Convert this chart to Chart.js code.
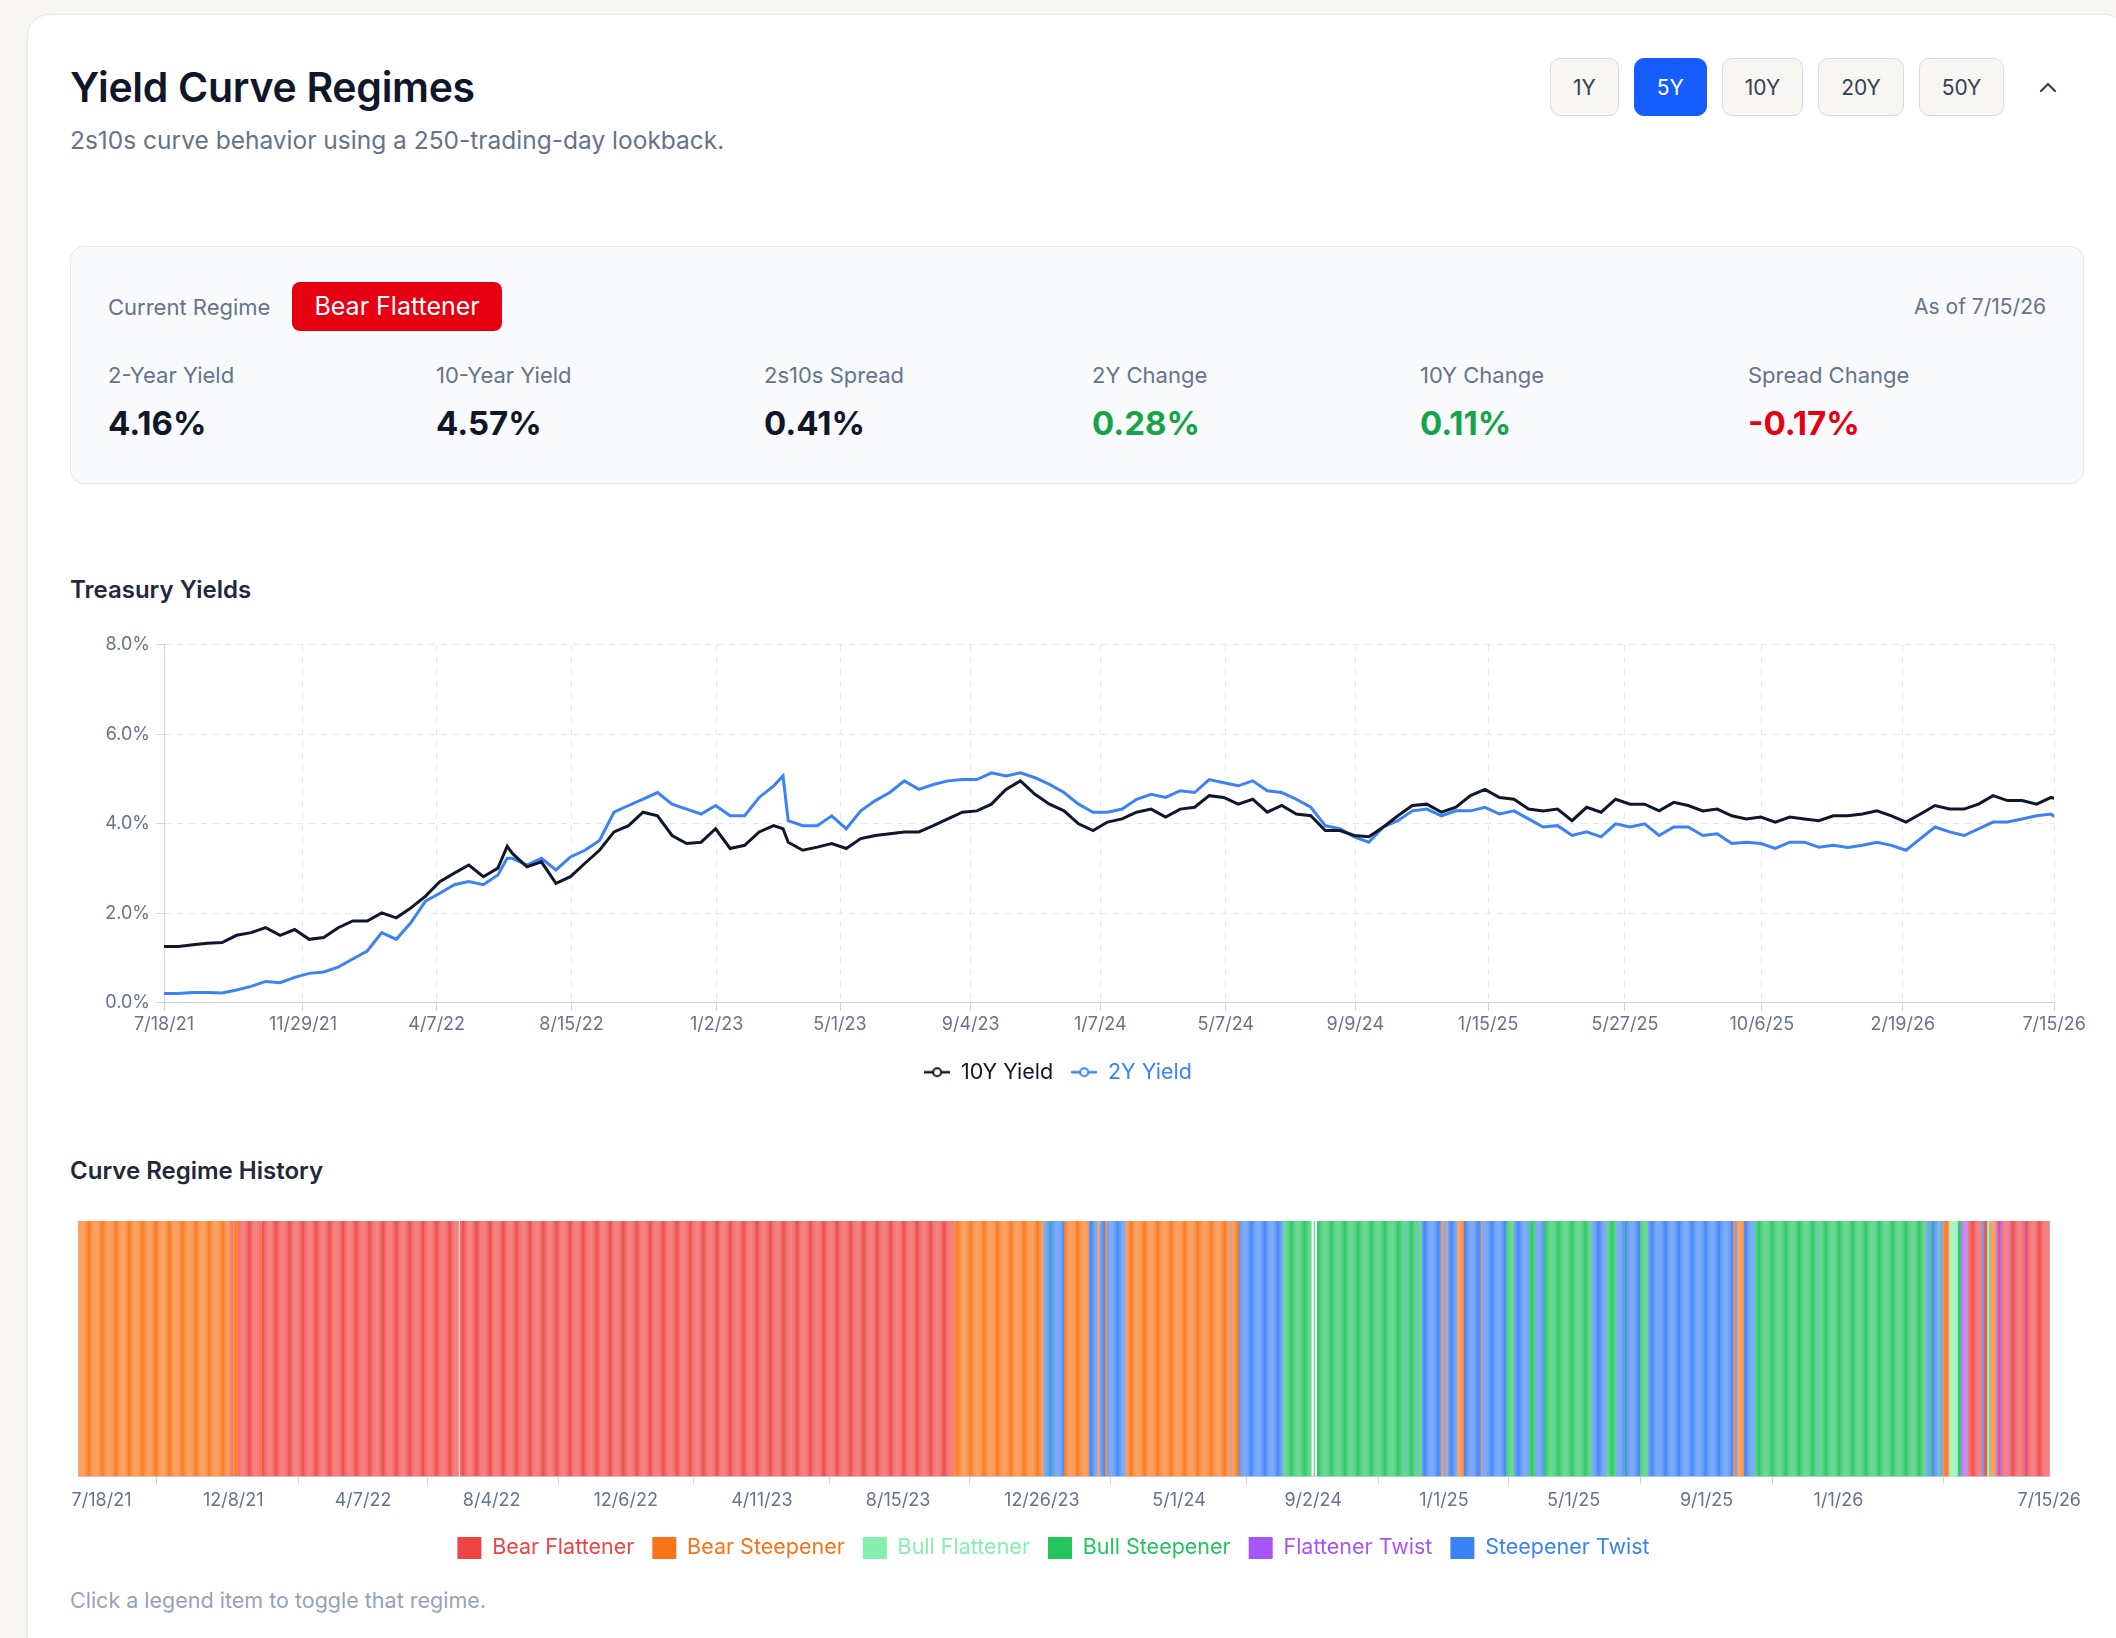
<!DOCTYPE html>
<html>
<head>
<meta charset="utf-8">
<title>Yield Curve Regimes</title>
<script src="https://cdn.jsdelivr.net/npm/chart.js@4.4.1/dist/chart.umd.min.js"></script>
<style>
  html, body { margin: 0; padding: 0; }
  body {
    width: 2116px; height: 1638px; overflow: hidden;
    background: #f7f6f3;
    font-family: Inter, "Noto Sans", sans-serif;
    color: #0f172a;
  }
  .card {
    position: absolute; left: 27px; top: 14px;
    width: 2100px; height: 1700px;
    box-sizing: border-box;
    background: #fff;
    border: 1px solid #e6e7ea;
    border-radius: 22px;
    box-shadow: 0 1px 3px rgba(15, 23, 42, 0.05);
  }
  .card > * { position: absolute; }
  h1 {
    margin: 0; left: 42px; top: 48px;
    font-size: 41px; line-height: 48px; font-weight: 600;
    color: #0f172a; letter-spacing: -0.3px;
  }
  .sub {
    left: 42px; top: 109px;
    font-size: 24.5px; line-height: 32px; color: #64748b;
  }
  .ranges { left: 1522px; top: 43px; display: flex; align-items: center; }
  .ranges button {
    height: 58px; padding: 0 22px; margin-right: 15px;
    font: 21px Inter, sans-serif; color: #334155;
    background: #f7f6f3; border: 1px solid #d7dbe2; border-radius: 10px;
  }
  .ranges button.on { background: #165dff; border-color: #165dff; color: #fff; }
  .ranges svg { margin-left: 20px; }
  .stats {
    left: 42px; top: 231px; width: 2014px; height: 238px;
    box-sizing: border-box;
    background: #f8fafc; border: 1px solid #e2e8f0; border-radius: 14px;
    padding: 35px 37px 0 37px;
  }
  .row { display: flex; align-items: center; height: 49px; }
  .muted { font-size: 22px; color: #64748b; }
  .badge {
    margin-left: 22px; height: 49px; line-height: 49px; padding: 0 22px;
    background: #e60012; color: #fff; border-radius: 8px; font-size: 25px;
  }
  .asof { margin-left: auto; font-size: 21px; color: #64748b; }
  .grid { display: grid; grid-template-columns: repeat(6, 1fr); column-gap: 30px; margin-top: 30px; }
  .grid .lbl { font-size: 22px; line-height: 28px; color: #64748b; }
  .grid .val { font-size: 33px; line-height: 40px; font-weight: 700; margin-top: 14px; color: #0f172a; }
  .grid .up { color: #16a34a; }
  .grid .down { color: #e60012; }
  h2 {
    margin: 0; left: 42px;
    font-size: 24px; line-height: 32px; font-weight: 600; color: #1e293b;
  }
  #yieldsBox { left: -1px; top: 613px; width: 2062px; height: 465px; }
  #regimeBox { left: -7px; top: 1206px; width: 2065px; height: 348px; }
  .note { left: 42px; top: 1571px; font-size: 21.5px; line-height: 28px; color: #94a3b8; }
</style>
</head>
<body>
<div class="card">
  <h1>Yield Curve Regimes</h1>
  <div class="sub">2s10s curve behavior using a 250-trading-day lookback.</div>
  <div class="ranges">
    <button>1Y</button><button class="on">5Y</button><button>10Y</button><button>20Y</button><button>50Y</button>
    <svg width="18" height="12" viewBox="0 0 18 12"><path d="M2 10 L9 3 L16 10" fill="none" stroke="#334155" stroke-width="2.2" stroke-linecap="round" stroke-linejoin="round"/></svg>
  </div>

  <div class="stats">
    <div class="row">
      <span class="muted">Current Regime</span>
      <span class="badge">Bear Flattener</span>
      <span class="asof">As of 7/15/26</span>
    </div>
    <div class="grid">
      <div><div class="lbl">2-Year Yield</div><div class="val">4.16%</div></div>
      <div><div class="lbl">10-Year Yield</div><div class="val">4.57%</div></div>
      <div><div class="lbl">2s10s Spread</div><div class="val">0.41%</div></div>
      <div><div class="lbl">2Y Change</div><div class="val up">0.28%</div></div>
      <div><div class="lbl">10Y Change</div><div class="val up">0.11%</div></div>
      <div><div class="lbl">Spread Change</div><div class="val down">-0.17%</div></div>
    </div>
  </div>

  <h2 style="top:559px">Treasury Yields</h2>
  <div id="yieldsBox"><canvas id="yieldsChart"></canvas></div>

  <h2 style="top:1140px">Curve Regime History</h2>
  <div id="regimeBox"><canvas id="regimeChart"></canvas></div>

  <div class="note">Click a legend item to toggle that regime.</div>
</div>

<script>
// ---- data ----

// observation day = days since 7/18/21
const obsDay = [
  0, 14, 28, 42, 56, 70, 84, 98, 112, 126,
  140, 154, 168, 182, 196, 210, 224, 238, 252, 266,
  280, 294, 308, 322, 331, 336, 350, 364, 378, 392,
  406, 420, 434, 448, 462, 476, 490, 504, 518, 532,
  546, 560, 574, 588, 597, 602, 616, 630, 644, 658,
  672, 686, 700, 714, 728, 742, 756, 770, 784, 798,
  812, 826, 840, 854, 868, 882, 896, 910, 924, 938,
  952, 966, 980, 994, 1008, 1022, 1036, 1050, 1064, 1078,
  1092, 1106, 1120, 1134, 1148, 1162, 1176, 1190, 1204, 1218,
  1232, 1246, 1260, 1274, 1288, 1302, 1316, 1330, 1344, 1358,
  1372, 1386, 1400, 1414, 1428, 1442, 1456, 1470, 1484, 1498,
  1512, 1526, 1540, 1554, 1568, 1582, 1596, 1610, 1624, 1638,
  1652, 1666, 1680, 1694, 1708, 1722, 1736, 1750, 1764, 1778,
  1792, 1806, 1820, 1823
];

const tenYear = [
  1.26, 1.26, 1.30, 1.33, 1.35, 1.51, 1.57, 1.68, 1.51, 1.64,
  1.42, 1.46, 1.68, 1.83, 1.83, 2.01, 1.90, 2.12, 2.38, 2.71,
  2.90, 3.08, 2.82, 3.01, 3.50, 3.34, 3.04, 3.15, 2.67, 2.82,
  3.12, 3.41, 3.82, 3.96, 4.26, 4.18, 3.74, 3.56, 3.59, 3.89,
  3.45, 3.52, 3.82, 3.96, 3.89, 3.59, 3.41, 3.48, 3.56, 3.45,
  3.67, 3.74, 3.78, 3.82, 3.82, 3.96, 4.11, 4.26, 4.29, 4.44,
  4.77, 4.96, 4.66, 4.44, 4.29, 4.00, 3.85, 4.04, 4.11, 4.26,
  4.33, 4.15, 4.33, 4.37, 4.63, 4.59, 4.44, 4.55, 4.26, 4.41,
  4.22, 4.18, 3.85, 3.85, 3.74, 3.71, 3.93, 4.18, 4.41, 4.44,
  4.26, 4.37, 4.63, 4.77, 4.59, 4.55, 4.33, 4.29, 4.33, 4.07,
  4.37, 4.26, 4.55, 4.44, 4.44, 4.29, 4.48, 4.41, 4.29, 4.33,
  4.18, 4.11, 4.15, 4.04, 4.15, 4.11, 4.07, 4.18, 4.18, 4.22,
  4.29, 4.18, 4.04, 4.22, 4.41, 4.33, 4.33, 4.44, 4.63, 4.52,
  4.52, 4.44, 4.59, 4.57
];

const twoYear = [
  0.21, 0.21, 0.23, 0.23, 0.22, 0.29, 0.37, 0.48, 0.45, 0.57,
  0.66, 0.69, 0.80, 0.98, 1.16, 1.57, 1.42, 1.79, 2.27, 2.45,
  2.64, 2.71, 2.64, 2.86, 3.23, 3.23, 3.08, 3.23, 2.97, 3.26,
  3.41, 3.63, 4.26, 4.41, 4.55, 4.70, 4.44, 4.33, 4.22, 4.41,
  4.18, 4.18, 4.59, 4.85, 5.07, 4.07, 3.96, 3.96, 4.18, 3.89,
  4.29, 4.52, 4.70, 4.96, 4.77, 4.88, 4.96, 4.99, 4.99, 5.14,
  5.07, 5.14, 5.03, 4.88, 4.70, 4.44, 4.26, 4.26, 4.33, 4.55,
  4.66, 4.59, 4.74, 4.70, 4.99, 4.92, 4.85, 4.96, 4.74, 4.70,
  4.55, 4.37, 3.96, 3.89, 3.71, 3.59, 3.93, 4.07, 4.29, 4.33,
  4.18, 4.29, 4.29, 4.37, 4.22, 4.29, 4.11, 3.93, 3.96, 3.74,
  3.82, 3.71, 4.00, 3.93, 4.00, 3.74, 3.93, 3.93, 3.74, 3.78,
  3.56, 3.59, 3.56, 3.45, 3.59, 3.59, 3.48, 3.52, 3.47, 3.52,
  3.59, 3.52, 3.41, 3.67, 3.93, 3.82, 3.74, 3.89, 4.04, 4.04,
  4.11, 4.18, 4.22, 4.16
];

const yieldTicks = ['7/18/21', '11/29/21', '4/7/22', '8/15/22', '1/2/23', '5/1/23', '9/4/23',
  '1/7/24', '5/7/24', '9/9/24', '1/15/25', '5/27/25', '10/6/25', '2/19/26', '7/15/26'];

const regimeNames = ['Bear Flattener', 'Bear Steepener', 'Bull Flattener', 'Bull Steepener', 'Flattener Twist', 'Steepener Twist'];
const regimeColors = ['#ef4444', '#f97316', '#86efac', '#22c55e', '#a855f7', '#3b82f6'];

// one bar per calendar day: [regime index (null = no reading), number of days]
const regimeRuns = [
  [1, 140], [0, 3], [1, 5], [0, 21], [1, 1], [0, 182], [null, 1], [0, 457],
  [1, 83], [5, 7], [3, 1], [5, 11], [1, 23], [5, 8], [1, 2], [5, 5], [1, 2], [5, 17],
  [1, 97], [5, 1], [1, 7], [5, 41], [3, 26], [null, 2], [3, 1], [null, 2], [3, 82],
  [5, 1], [3, 10], [5, 1], [3, 3], [5, 18], [1, 2], [5, 3], [1, 1], [5, 9], [1, 6],
  [5, 16], [1, 1], [5, 22], [3, 7], [5, 14], [3, 6], [5, 8], [3, 44], [5, 14], [3, 9],
  [5, 7], [3, 1], [5, 14], [3, 7], [5, 79], [1, 2], [5, 2], [1, 6], [5, 10], [3, 58],
  [5, 1], [3, 99], [5, 4], [3, 2], [5, 6], [3, 1], [5, 3], [1, 6], [2, 8], [3, 3],
  [4, 6], [0, 13], [5, 2], [0, 3], [2, 2], [3, 1], [1, 5], [4, 2], [0, 2], [4, 2],
  [0, 6], [4, 1], [0, 13], [4, 1], [0, 23]
];

const regimeTicks = ['7/18/21', '12/8/21', '4/7/22', '8/4/22', '12/6/22', '4/11/23', '8/15/23',
  '12/26/23', '5/1/24', '9/2/24', '1/1/25', '5/1/25', '9/1/25', '1/1/26', '7/15/26'];

// ---- helpers ----
function dayOf(label) {
  const [m, d, y] = label.split('/').map(Number);
  return Math.round((Date.UTC(2000 + y, m - 1, d) - Date.UTC(2021, 6, 18)) / 86400000);
}

function lineIcon(color) {
  const c = document.createElement('canvas');
  c.width = 26; c.height = 14;
  const g = c.getContext('2d');
  g.strokeStyle = color;
  g.lineWidth = 2.5;
  g.beginPath(); g.moveTo(0, 7); g.lineTo(26, 7); g.stroke();
  g.beginPath(); g.arc(13, 7, 4, 0, Math.PI * 2);
  g.fillStyle = '#fff'; g.fill();
  g.lineWidth = 2; g.stroke();
  return c;
}

const tickFont = { family: 'Inter', size: 18 };
const tickColor = '#64748b';
const legendFont = { family: 'Inter', size: 21.5 };

// ---- treasury yields ----
const yieldSeries = [
  { label: '10Y Yield', values: tenYear, color: '#0f172a' },
  { label: '2Y Yield', values: twoYear, color: '#3b82f6' }
];

new Chart(document.getElementById('yieldsChart'), {
  type: 'line',
  data: {
    datasets: yieldSeries.map(s => ({
      label: s.label,
      data: s.values.map((v, i) => ({ x: obsDay[i], y: v })),
      borderColor: s.color,
      backgroundColor: s.color,
      borderWidth: 3,
      pointRadius: 0,
      tension: 0
    }))
  },
  options: {
    responsive: true,
    maintainAspectRatio: false,
    animation: false,
    scales: {
      x: {
        type: 'linear',
        min: 0,
        max: dayOf('7/15/26'),
        afterBuildTicks: scale => { scale.ticks = yieldTicks.map(l => ({ value: dayOf(l) })); },
        afterFit: scale => { scale.height += 5; },
        ticks: {
          autoSkip: false, maxRotation: 0, font: tickFont, color: tickColor,
          callback: (v, i) => yieldTicks[i]
        },
        grid: { color: '#e2e8f0', tickColor: '#cbd5e1', tickLength: 8 },
        border: { color: '#cbd5e1', dash: [6, 6] }
      },
      y: {
        min: 0,
        max: 8,
        afterFit: scale => { scale.width = 137; },
        ticks: {
          stepSize: 2, padding: 6, font: tickFont, color: tickColor,
          callback: v => v.toFixed(1) + '%'
        },
        grid: { color: '#e2e8f0', tickColor: '#cbd5e1', tickLength: 8 },
        border: { color: '#cbd5e1', dash: [6, 6] }
      }
    },
    plugins: {
      legend: {
        position: 'bottom',
        labels: {
          usePointStyle: true,
          pointStyleWidth: 26,
          padding: 18,
          font: legendFont,
          generateLabels: chart => chart.data.datasets.map((ds, i) => ({
            text: ds.label,
            fontColor: ds.borderColor,
            pointStyle: lineIcon(ds.borderColor),
            fillStyle: 'transparent',
            strokeStyle: 'transparent',
            lineWidth: 0,
            hidden: !chart.isDatasetVisible(i),
            datasetIndex: i
          }))
        }
      },
      tooltip: { enabled: false }
    }
  }
});

// ---- curve regime history ----
const regimeData = regimeNames.map(() => []);
let day = 0;
regimeRuns.forEach(([r, len]) => {
  for (let k = 0; k < len; k++) {
    if (r !== null) regimeData[r].push({ x: day + k, y: 1 });
  }
  day += len;
});
const lastDay = day - 1;

new Chart(document.getElementById('regimeChart'), {
  type: 'bar',
  data: {
    datasets: regimeNames.map((name, i) => ({
      label: name,
      data: regimeData[i],
      backgroundColor: regimeColors[i],
      borderWidth: 0,
      barPercentage: 0.85,
      categoryPercentage: 1
    }))
  },
  options: {
    responsive: true,
    maintainAspectRatio: false,
    animation: false,
    scales: {
      x: {
        type: 'linear',
        stacked: true,
        offset: false,
        min: -0.5,
        max: lastDay + 0.5,
        afterBuildTicks: scale => { scale.ticks = regimeTicks.map(l => ({ value: dayOf(l) })); },
        afterFit: scale => { scale.height += 3; },
        ticks: {
          autoSkip: false, maxRotation: 0, padding: 5, font: tickFont, color: tickColor,
          // first label sits to the right of its tick in the original, so pad it
          callback: (v, i) => (i === 0 ? '         ' : '') + regimeTicks[i]
        },
        grid: { drawOnChartArea: false, color: '#cbd5e1', tickColor: '#cbd5e1', tickLength: 8 },
        border: { color: '#cbd5e1' }
      },
      y: { stacked: true, min: 0, max: 1, display: false }
    },
    plugins: {
      legend: {
        position: 'bottom',
        labels: {
          boxWidth: 24,
          boxHeight: 22,
          padding: 18,
          font: legendFont,
          generateLabels: chart => chart.data.datasets.map((ds, i) => ({
            text: ds.label,
            fontColor: ds.backgroundColor,
            fillStyle: ds.backgroundColor,
            strokeStyle: ds.backgroundColor,
            lineWidth: 0,
            hidden: !chart.isDatasetVisible(i),
            datasetIndex: i
          }))
        }
      },
      tooltip: { enabled: false }
    }
  }
});
</script>
</body>
</html>
